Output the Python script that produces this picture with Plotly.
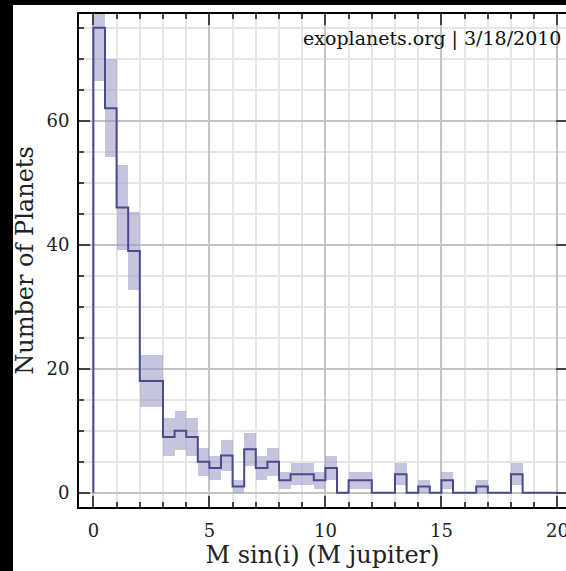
import numpy as np
import plotly.graph_objects as go

# bin left edges (M sin(i) in M_jupiter), bin width 0.5
bin_left = [i * 0.5 for i in range(40)]
counts = [75, 62, 46, 39, 18, 18, 9, 10, 9, 5,
          4, 6, 1, 7, 4, 5, 2, 3, 3, 2,
          4, 0, 2, 2, 0, 0, 3, 0, 1, 0,
          2, 0, 0, 1, 0, 0, 3, 0, 0, 0]
bin_width = 0.5
x_ticks = [0, 5, 10, 15, 20]
y_ticks = [0, 20, 40, 60]
credit = "exoplanets.org | 3/18/2010"

LINE = "#4a4a8e"
BAND = "rgba(150,152,195,0.55)"
FONT = "DejaVu Serif"

err = np.sqrt(np.array(counts, dtype=float))
cnt = np.array(counts, dtype=float)
mask = cnt > 0

fig = go.Figure()
fig.add_trace(go.Bar(
    x=np.array(bin_left)[mask], y=(2 * err)[mask], base=(cnt - err)[mask],
    width=bin_width, offset=0, marker=dict(color=BAND, line=dict(width=0)),
    hoverinfo="skip", showlegend=False))

step_x = [0] + bin_left + [bin_left[-1] + bin_width]
step_y = [0] + counts + [counts[-1]]
fig.add_trace(go.Scatter(x=step_x, y=step_y, mode="lines", line_shape="hv",
                         line=dict(color=LINE, width=2), showlegend=False))
fig.add_trace(go.Scatter(x=[0], y=[0], yaxis="y2", mode="markers",
                         marker=dict(opacity=0), hoverinfo="skip", showlegend=False))

W, H = 566, 571
L, R, T, B = 79, 0, 14, 64
pw, ph = W - L - R, H - T - B
def px(xp): return (xp - L) / pw
def py(yp): return (H - B - yp) / ph

xr = [-0.62, 20.37]
yr = [-2.3, 77.2]

fig.update_layout(
    width=W, height=H, margin=dict(l=L, r=R, t=T, b=B, pad=0, autoexpand=False),
    paper_bgcolor="white", plot_bgcolor="white", bargap=0,
    font=dict(family=FONT, color="#222", size=18),
    xaxis=dict(range=xr, tickvals=x_ticks, ticks="inside", ticklen=11, tickwidth=1.5,
               tickcolor="#444", showline=True, linecolor="black", linewidth=2,
               mirror="ticks", zeroline=False, showgrid=True, gridcolor="#c4c4c4",
               gridwidth=1.5, tickfont=dict(size=18, family=FONT, color="#222"),
               ticklabelstandoff=6, automargin=False, ticklabeloverflow="allow",
               minor=dict(dtick=1, ticks="inside", ticklen=5, tickcolor="#444",
                          showgrid=True, gridcolor="#e6e6e6", gridwidth=1.5),
               title=dict(text="M sin(i) (M jupiter)", font=dict(size=24, family=FONT, color="#222"),
                          standoff=1)),
    yaxis=dict(range=yr, tickvals=y_ticks, ticks="inside", ticklen=11, tickwidth=1.5,
               tickcolor="#444", showline=True, linecolor="black", linewidth=2,
               zeroline=False, showgrid=True, gridcolor="#c4c4c4", gridwidth=1.5,
               tickfont=dict(size=18, family=FONT, color="#222"), ticklabelstandoff=4,
               automargin=False,
               minor=dict(dtick=5, ticks="inside", ticklen=5, tickcolor="#444",
                          showgrid=True, gridcolor="#e6e6e6", gridwidth=1.5),
               title=dict(text="Number of Planets", font=dict(size=24, family=FONT, color="#222"),
                          standoff=6)),
    yaxis2=dict(range=yr, overlaying="y", side="right", tickvals=y_ticks, ticks="inside",
                ticklen=10, tickwidth=1.5, tickcolor="#444", showticklabels=False,
                showgrid=False, zeroline=False, showline=False, automargin=False),
    annotations=[dict(text=credit, xref="paper", yref="paper", x=px(563), y=py(38),
                      xanchor="right", yanchor="middle", showarrow=False,
                      font=dict(size=19, family=FONT, color="#111"))],
    shapes=[
        dict(type="rect", xref="paper", yref="paper", x0=px(0), x1=px(13), y0=py(H), y1=py(0),
             fillcolor="black", line=dict(width=0), layer="above"),
        dict(type="rect", xref="paper", yref="paper", x0=px(0), x1=px(W), y0=py(5), y1=py(0),
             fillcolor="black", line=dict(width=0), layer="above"),
    ],
)

fig.write_html("out.html", config={"displayModeBar": False},
               post_script="document.body.style.margin='0';document.body.style.overflow='hidden';")
